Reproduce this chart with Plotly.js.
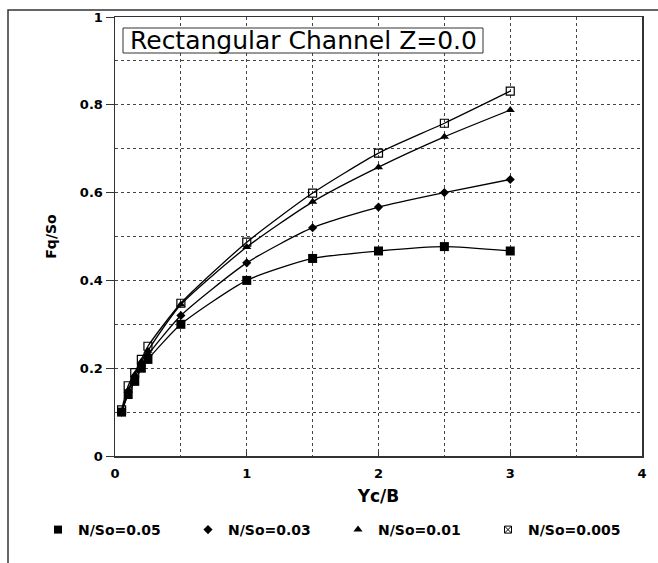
<!DOCTYPE html>
<html>
<head>
<meta charset="utf-8">
<script src="https://cdn.plot.ly/plotly-3.0.1.min.js"></script>
<style>html,body{margin:0;padding:0;background:#fff;}#chart{width:658px;height:563px;}</style>
</head>
<body>
<div id="chart"></div>
<script>
// Data
const ycB = [0.05, 0.1, 0.15, 0.2, 0.25, 0.5, 1, 1.5, 2, 2.5, 3];
const fq_n005  = [0.10, 0.14, 0.17, 0.20, 0.22, 0.30, 0.40, 0.45, 0.467, 0.477, 0.467];
const fq_n003  = [0.10, 0.145, 0.18, 0.205, 0.23, 0.32, 0.44, 0.52, 0.567, 0.60, 0.63];
const fq_n001  = [0.10, 0.15, 0.185, 0.215, 0.24, 0.345, 0.476, 0.579, 0.658, 0.727, 0.788];
const fq_n0005 = [0.105, 0.16, 0.19, 0.22, 0.25, 0.348, 0.487, 0.599, 0.69, 0.758, 0.831];
const seriesNames = ['N/So=0.05', 'N/So=0.03', 'N/So=0.01', 'N/So=0.005'];
const chartTitle = 'Rectangular Channel Z=0.0';
const xTitle = 'Yc/B';
const yTitle = 'Fq/So';

const seriesY = [fq_n005, fq_n003, fq_n001, fq_n0005];
const markerStyles = [
  {symbol: 'square', size: 9, color: '#000'},
  {symbol: 'diamond', size: 7, color: '#000'},
  {symbol: 'triangle-up', size: 8, color: '#000'},
  {symbol: 'square-open', size: 8, color: '#000', line: {width: 1.2, color: '#000'}}
];
const legendMarkers = [
  {symbol: 'square', size: 8, color: '#000'},
  {symbol: 'diamond', size: 7, color: '#000'},
  {symbol: 'triangle-up', size: 8, color: '#000'},
  {symbol: 'square-x-open', size: 7, color: '#000', line: {width: 1, color: '#000'}}
];

const traces = [];
seriesY.forEach((ys, i) => {
  traces.push({
    x: ycB, y: ys, type: 'scatter', mode: 'lines+markers',
    name: seriesNames[i], showlegend: false,
    line: {color: '#000', width: 1.3, shape: 'spline', smoothing: 0.6},
    marker: markerStyles[i], cliponaxis: false
  });
});
seriesNames.forEach((nm, i) => {
  traces.push({
    x: [null], y: [null], type: 'scatter', mode: 'markers',
    name: nm, showlegend: true, marker: legendMarkers[i]
  });
});

const L = 115, R = 642, T = 17, B = 456;
const pw = R - L, ph = B - T;
const px = v => (v - L) / pw;
const py = v => (B - v) / ph;

const tickFont = {family: 'DejaVu Sans', size: 13, color: '#000', weight: 700};

const layout = {
  width: 658, height: 563,
  margin: {l: L, r: 658 - R, t: T, b: 563 - B},
  paper_bgcolor: '#fff', plot_bgcolor: '#fff',
  showlegend: true,
  xaxis: {
    range: [0, 4], dtick: 1, tick0: 0, autorange: false,
    showgrid: true, gridcolor: '#444', griddash: 'dot', gridwidth: 1,
    minor: {dtick: 0.5, showgrid: true, gridcolor: '#444', griddash: 'dot', gridwidth: 1},
    showline: true, linecolor: '#333', linewidth: 1.5, mirror: true,
    ticks: 'inside', ticklen: 4, tickcolor: '#333',
    ticklabelstandoff: 5,
    tickfont: tickFont, zeroline: false,
    title: {text: xTitle, font: {family: 'DejaVu Sans', size: 17, color: '#000', weight: 700}, standoff: 10},
    automargin: false
  },
  yaxis: {
    range: [0, 1], dtick: 0.2, tick0: 0, autorange: false,
    showgrid: true, gridcolor: '#444', griddash: 'dot', gridwidth: 1,
    minor: {dtick: 0.1, showgrid: true, gridcolor: '#444', griddash: 'dot', gridwidth: 1},
    showline: true, linecolor: '#333', linewidth: 1.5, mirror: true,
    ticks: 'outside', ticklen: 8, tickcolor: '#333',
    tickfont: tickFont, zeroline: false,
    title: {text: yTitle, font: {family: 'DejaVu Sans', size: 14, color: '#000', weight: 700}, standoff: 20},
    automargin: false
  },
  legend: {
    orientation: 'h', x: px(38), xanchor: 'left', y: py(530), yanchor: 'middle',
    entrywidth: 105, itemwidth: 30,
    font: {family: 'DejaVu Sans', size: 14, color: '#000', weight: 700},
    bgcolor: 'rgba(0,0,0,0)'
  },
  annotations: [{
    text: chartTitle, xref: 'paper', yref: 'paper',
    x: px(303), y: py(40.5), xanchor: 'center', yanchor: 'middle',
    showarrow: false,
    font: {family: 'DejaVu Sans', size: 25, color: '#000'}
  }],
  shapes: [{
    type: 'rect', xref: 'paper', yref: 'paper',
    x0: px(8), x1: px(700), y0: py(620), y1: py(10),
    line: {color: '#333', width: 1.5}, fillcolor: 'rgba(0,0,0,0)', layer: 'below'
  }, {
    type: 'rect', xref: 'paper', yref: 'paper',
    x0: px(123), x1: px(483), y0: py(53), y1: py(28),
    line: {color: '#333', width: 1}, fillcolor: '#fff', layer: 'above'
  }]
};

Plotly.newPlot('chart', traces, layout, {displayModeBar: false, staticPlot: true});
</script>
</body>
</html>
